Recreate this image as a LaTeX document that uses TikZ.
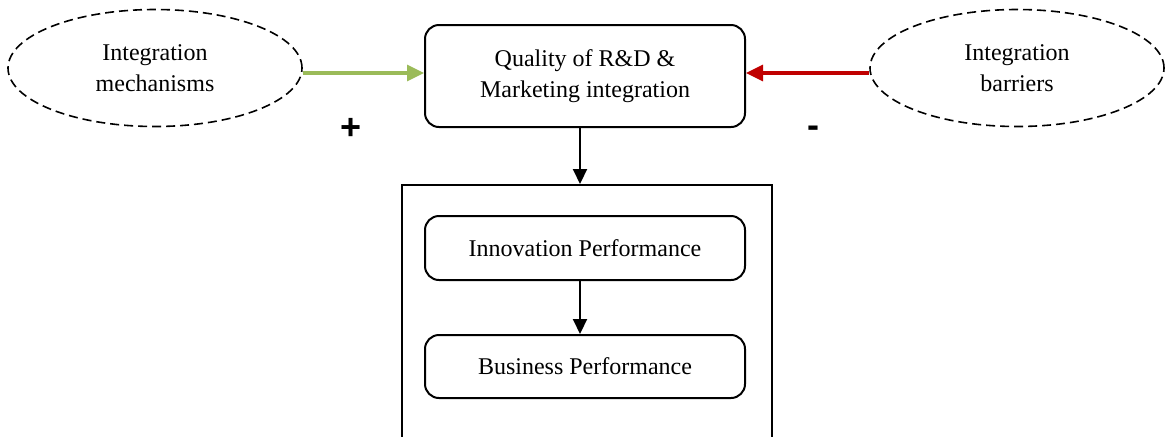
\documentclass[tikz,border=0pt]{standalone}
\usepackage{fontspec}
\setmainfont{Liberation Serif}
\newfontfamily\signfont{Liberation Sans}
\usetikzlibrary{arrows.meta,shapes.geometric}
\definecolor{posgreen}{RGB}{155,187,89}
\definecolor{negred}{RGB}{192,0,0}
\begin{document}
\begin{tikzpicture}[x=0.5pt,y=-0.5pt,
	factor/.style={draw,dashed,dash pattern=on 4.5pt off 2.5pt,ellipse,line width=0.8pt,minimum width=147pt,minimum height=58.5pt,inner sep=0pt,align=center,font=\fontsize{12}{15.5}\selectfont},
	stage/.style={draw,rounded corners=7pt,line width=1pt,minimum width=160pt,align=center,font=\fontsize{12}{15.5}\selectfont},
	flow/.style={-{Triangle[length=7.5pt,width=7pt]},line width=1pt},
	sign/.style={font=\signfont\bfseries\fontsize{18}{18}\selectfont}]
					\useasboundingbox (0,0) rectangle (1165,436);
					\clip (0,0) rectangle (1165,436);
					\node[factor] (mech) at (155,68) {Integration\\mechanisms};
					\node[factor] (barrier) at (1017,68) {Integration\\barriers};
					\node[stage,minimum height=51pt] (quality) at (585,76) {Quality of R\&D \&\\Marketing integration};
					\node[draw,line width=1pt,minimum width=185pt,minimum height=150pt] (outer) at (587,335) {};
					\node[stage,minimum height=32pt] (innov) at (585,248) {Innovation Performance};
					\node[stage,minimum height=31.5pt] (business) at (585,366.5) {Business Performance};
					\node[sign] (plus) at (351,129) {+};
					\node[sign] (minus) at (813,132) {-};
					\draw[flow,posgreen,line width=1.6pt,-{Triangle[length=8.5pt,width=8pt]}] (mech.east |- 0,73) -- (quality.west |- 0,73);
					\draw[flow,negred,line width=1.6pt,-{Triangle[length=8.5pt,width=8pt]}] (barrier.west |- 0,73) -- (quality.east |- 0,73);
					\draw[flow] (quality.south -| 580,0) -- (outer.north -| 580,0);
					\draw[flow] (innov.south -| 580,0) -- (business.north -| 580,0);
\end{tikzpicture}
\end{document}
